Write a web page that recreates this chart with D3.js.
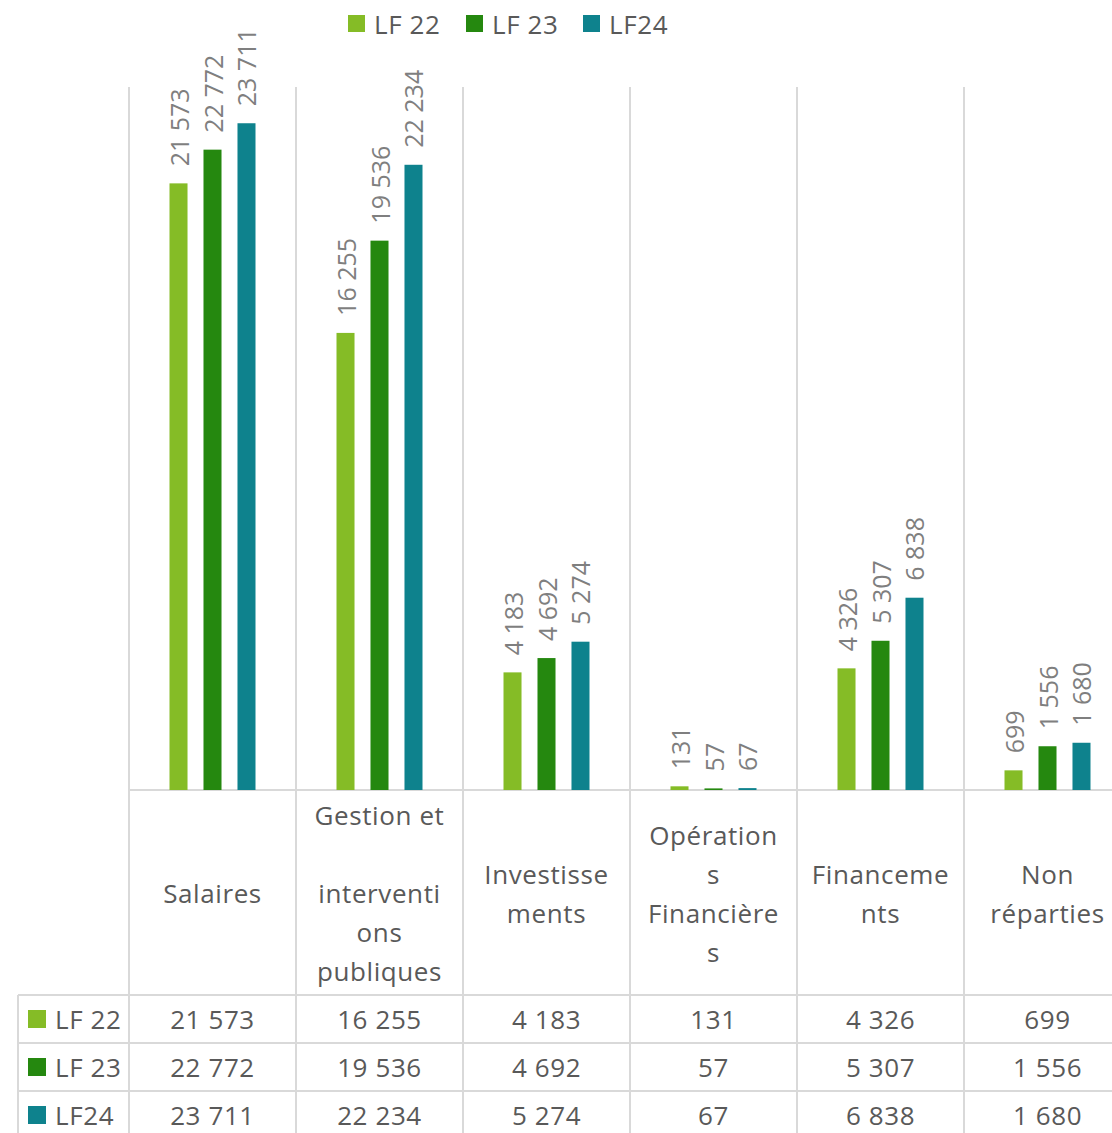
<!DOCTYPE html>
<html>
<head>
<meta charset="utf-8">
<script src="https://cdn.jsdelivr.net/npm/d3@7"></script>
<style>
  body { margin: 0; background: #fff; }
  svg { display: block; font-family: "Open Sans", sans-serif; }
</style>
</head>
<body>
<div id="chart"></div>
<script>
const categories = ["Salaires", "Gestion et interventions publiques", "Investissements", "Opérations Financières", "Financements", "Non réparties"]
// wrapped the way the spreadsheet wraps them
const categoryLines = [
  ["Salaires"],
  ["Gestion et", "", "interventi", "ons", "publiques"],
  ["Investisse", "ments"],
  ["Opération", "s", "Financière", "s"],
  ["Financeme", "nts"],
  ["Non", "réparties"]
]
const series = ["LF 22", "LF 23", "LF24"]
const lf22 = [21573, 16255, 4183, 131, 4326, 699]
const lf23 = [22772, 19536, 4692, 57, 5307, 1556]
const lf24 = [23711, 22234, 5274, 67, 6838, 1680]
const colors = ["#85bc26", "#25880f", "#0e828d"]

const w = 1112
const h = 1133
const plotTop = 87
const baseY = 790
const tableTop = 995
const rowH = 48
const textCol = "#595959"
const labelCol = "#7f7f7f"
const gridCol = "#d9d9d9"

const values = [lf22, lf23, lf24]
const fmt = d3.formatLocale({ decimal: ",", thousands: " ", grouping: [3], currency: ["", " €"] }).format(",d")

const svg = d3.select("#chart").append("svg")
  .attr("width", w)
  .attr("height", h)

const x = d3.scaleBand()
  .domain(categories)
  .range([129, 1131])
  .padding(0)

const y = d3.scaleLinear()
  .domain([0, 25000])
  .range([baseY, plotTop])

const inner = d3.scaleBand()
  .domain(series)
  .range([-43, 43])
  .paddingInner(0.47)
  .paddingOuter(0)

// grid: category separators
const edges = categories.map(c => x(c))
svg.append("g")
  .selectAll("line")
  .data(edges)
  .join("line")
  .attr("x1", d => d).attr("x2", d => d)
  .attr("y1", plotTop).attr("y2", h)
  .attr("stroke", gridCol).attr("stroke-width", 2)

// axis line and table lines
svg.append("line")
  .attr("x1", 129).attr("x2", w).attr("y1", baseY).attr("y2", baseY)
  .attr("stroke", gridCol).attr("stroke-width", 2)

svg.append("g")
  .selectAll("line")
  .data(series)
  .join("line")
  .attr("x1", 18).attr("x2", w)
  .attr("y1", (d, i) => tableTop + i * rowH)
  .attr("y2", (d, i) => tableTop + i * rowH)
  .attr("stroke", gridCol).attr("stroke-width", 2)

svg.append("line")
  .attr("x1", 18).attr("x2", 18).attr("y1", tableTop).attr("y2", h)
  .attr("stroke", gridCol).attr("stroke-width", 2)

// bars
const groups = svg.append("g")
  .selectAll("g")
  .data(series)
  .join("g")
  .attr("fill", (d, i) => colors[i])

groups.selectAll("rect")
  .data((s, si) => categories.map((c, ci) => ({ s, c, v: values[si][ci] })))
  .join("rect")
  .attr("x", d => x(d.c) + x.bandwidth() / 2 + inner(d.s))
  .attr("y", d => y(d.v))
  .attr("width", inner.bandwidth())
  .attr("height", d => baseY - y(d.v))

// rotated data labels
groups.selectAll("text")
  .data((s, si) => categories.map((c, ci) => ({ s, c, v: values[si][ci] })))
  .join("text")
  .attr("transform", d => {
    const cx = x(d.c) + x.bandwidth() / 2 + inner(d.s) + inner.bandwidth() / 2
    return `translate(${cx},${y(d.v) - 17}) rotate(-90)`
  })
  .attr("dominant-baseline", "central")
  .attr("fill", labelCol)
  .style("font-size", "25px")
  .text(d => fmt(d.v))

// category labels
const lineH = 39
const catG = svg.append("g")
  .selectAll("text")
  .data(categories)
  .join("text")
  .attr("text-anchor", "middle")
  .attr("fill", textCol)
  .style("font-size", "26px")
  .style("letter-spacing", "0.6px")

catG.each(function(c, i) {
  const lines = categoryLines[i]
  const start = 893 - (lines.length - 1) * lineH / 2
  d3.select(this).selectAll("tspan")
    .data(lines)
    .join("tspan")
    .attr("x", x(c) + x.bandwidth() / 2)
    .attr("y", (d, j) => start + j * lineH)
    .attr("dominant-baseline", "central")
    .text(d => d)
})

// data table
const rows = svg.append("g")
  .selectAll("g")
  .data(series)
  .join("g")
  .attr("transform", (d, i) => `translate(0,${tableTop + i * rowH + rowH / 2})`)

rows.append("rect")
  .attr("x", 28).attr("y", -9)
  .attr("width", 18).attr("height", 18)
  .attr("fill", (d, i) => colors[i])

rows.append("text")
  .attr("x", 55)
  .attr("dominant-baseline", "central")
  .attr("fill", textCol)
  .style("font-size", "26px")
  .style("letter-spacing", "0.6px")
  .text(d => d)

rows.selectAll("text.val")
  .data((s, si) => categories.map((c, ci) => ({ c, v: values[si][ci] })))
  .join("text")
  .attr("class", "val")
  .attr("x", d => x(d.c) + x.bandwidth() / 2)
  .attr("text-anchor", "middle")
  .attr("dominant-baseline", "central")
  .attr("fill", textCol)
  .style("font-size", "26px")
  .style("letter-spacing", "0.6px")
  .text(d => fmt(d.v))

// legend
const legend = svg.append("g")
  .selectAll("g")
  .data(series)
  .join("g")
  .attr("transform", (d, i) => `translate(${[348, 466, 583][i]},24)`)

legend.append("rect")
  .attr("x", 0).attr("y", -9)
  .attr("width", 17).attr("height", 17)
  .attr("fill", (d, i) => colors[i])

legend.append("text")
  .attr("x", 26)
  .attr("dominant-baseline", "central")
  .attr("fill", textCol)
  .style("font-size", "26px")
  .style("letter-spacing", "0.6px")
  .text(d => d)
</script>
</body>
</html>
